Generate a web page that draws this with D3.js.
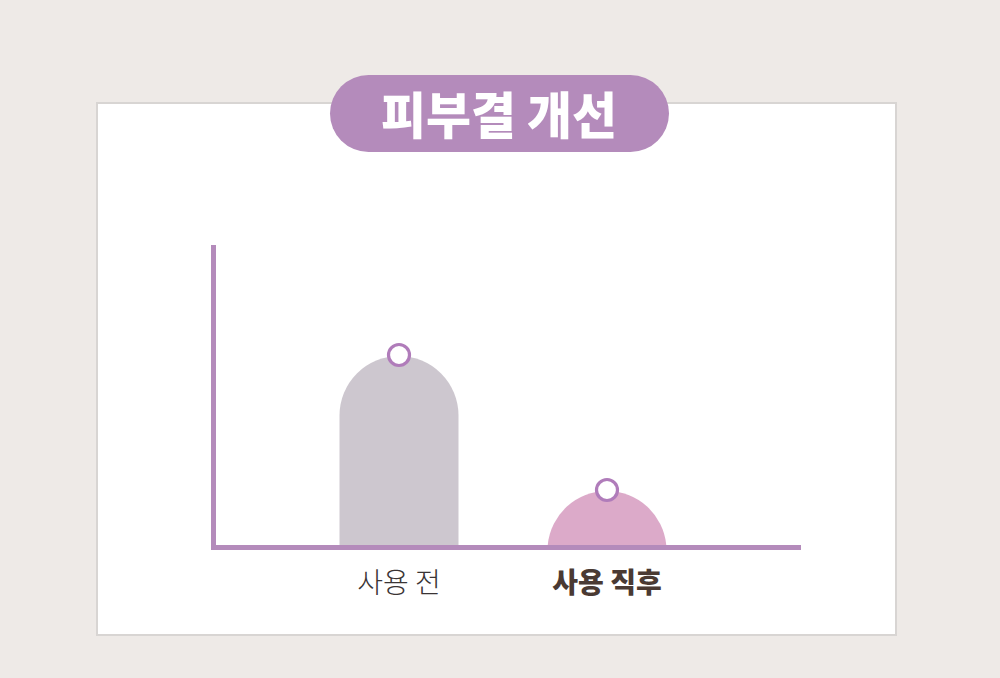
<!DOCTYPE html>
<html>
<head>
<meta charset="utf-8">
<script src="https://cdn.jsdelivr.net/npm/d3@7"></script>
<style>
  body { margin: 0; background: #eeeae7; }
  svg { display: block; }
</style>
</head>
<body>
<div id="main"></div>
<script>
// chart values
const categories = ["사용 전", "사용 직후"];
const values = [63, 18];
const barColors = ["#cdc7cf", "#dcaac9"];
const labelWeights = ["300", "900"];
const title = "피부결 개선";

const ctx = {width: 1000, height: 678, accent: "#b48bbb"};

const svg = d3.select("#main").append("svg")
  .attr("width", ctx.width)
  .attr("height", ctx.height);

// white panel
svg.append("rect")
  .attr("x", 97).attr("y", 103)
  .attr("width", 799).attr("height", 532)
  .attr("fill", "#ffffff")
  .attr("stroke", "#d8d5d3")
  .attr("stroke-width", 2);

// title pill
svg.append("rect")
  .attr("x", 330).attr("y", 75)
  .attr("width", 339).attr("height", 77)
  .attr("rx", 38.5)
  .attr("fill", ctx.accent);
svg.append("text")
  .attr("x", 499).attr("y", 112)
  .attr("text-anchor", "middle")
  .attr("dominant-baseline", "central")
  .attr("fill", "#ffffff")
  .attr("font-family", "'Noto Sans CJK KR', sans-serif")
  .attr("font-weight", 900)
  .attr("font-size", 50)
  .attr("textLength", 236)
  .attr("lengthAdjust", "spacingAndGlyphs")
  .text(title);

// scales
const x = d3.scaleBand()
  .domain(categories)
  .range([295, 711])
  .paddingInner(0.0);
const bw = 119;
const y = d3.scaleLinear().domain([0, 100]).range([545, 245]);

// bar shape: rectangle with a semicircular top, clipped at baseline
function barPath(cx, top, base, w) {
  const r = w / 2;
  const h = base - top;
  if (h >= r) {
    return `M${cx - r},${base} L${cx - r},${top + r} A${r},${r} 0 0 1 ${cx + r},${top + r} L${cx + r},${base} Z`;
  }
  const cy = top + r;
  const dy = cy - base;
  const hw = Math.sqrt(r * r - dy * dy);
  return `M${cx - hw},${base} A${r},${r} 0 0 1 ${cx + hw},${base} Z`;
}

const cx = d => x(d) + x.bandwidth() / 2;

svg.selectAll("path.bar")
  .data(values)
  .enter().append("path")
  .attr("class", "bar")
  .attr("d", (d, i) => barPath(cx(categories[i]), y(d), y(0), bw))
  .attr("fill", (d, i) => barColors[i]);

// axes
svg.append("line")
  .attr("x1", 213.5).attr("x2", 213.5)
  .attr("y1", 245).attr("y2", 550)
  .attr("stroke", ctx.accent).attr("stroke-width", 5);
svg.append("line")
  .attr("x1", 211).attr("x2", 801)
  .attr("y1", 547.5).attr("y2", 547.5)
  .attr("stroke", ctx.accent).attr("stroke-width", 5);

// markers
svg.selectAll("circle.marker")
  .data(values)
  .enter().append("circle")
  .attr("class", "marker")
  .attr("cx", (d, i) => cx(categories[i]))
  .attr("cy", d => y(d) - 1)
  .attr("r", 10.5)
  .attr("fill", "#ffffff")
  .attr("stroke", "#b07cba")
  .attr("stroke-width", 3.2);

// category labels
svg.selectAll("text.label")
  .data(categories)
  .enter().append("text")
  .attr("class", "label")
  .attr("x", d => cx(d))
  .attr("y", 581)
  .attr("text-anchor", "middle")
  .attr("dominant-baseline", "central")
  .attr("font-family", "'Noto Sans CJK KR', sans-serif")
  .attr("font-size", 28)
  .attr("font-weight", (d, i) => labelWeights[i])
  .attr("fill", (d, i) => i === 0 ? "#3a3434" : "#4a3a33")
  .text(d => d);
</script>
</body>
</html>
